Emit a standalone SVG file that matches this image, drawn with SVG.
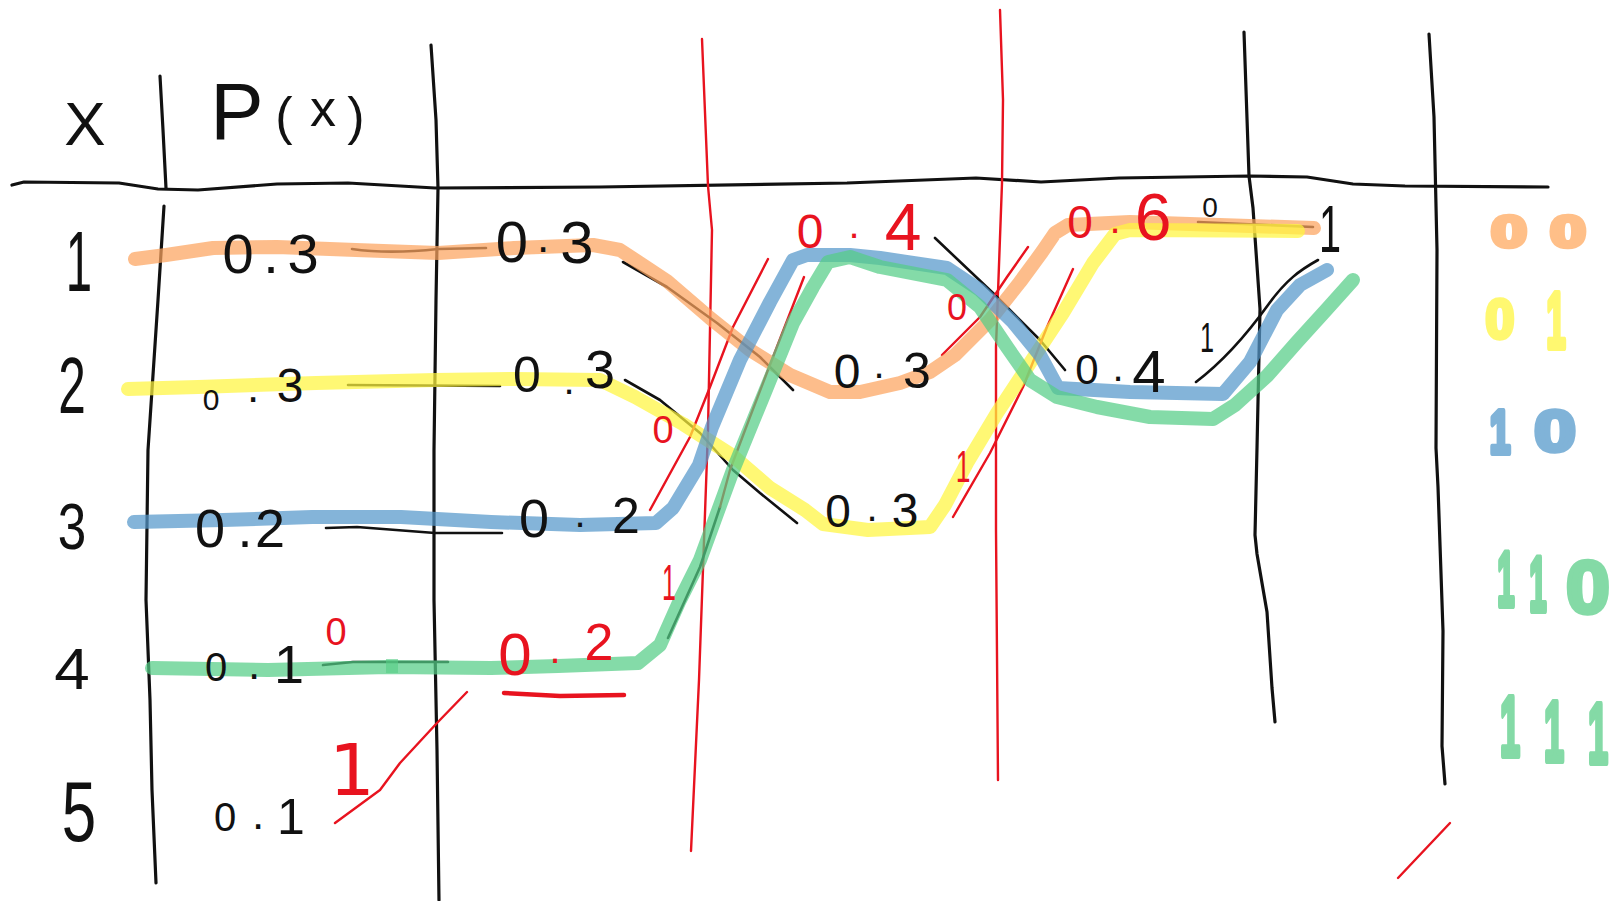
<svg xmlns="http://www.w3.org/2000/svg" width="1618" height="901" viewBox="0 0 1618 901">
<style>
.grid{fill:none;stroke:#111;stroke-width:3.2;stroke-linecap:round;stroke-linejoin:round}
.ln{fill:none;stroke:#111;stroke-width:2.6;stroke-linecap:round;stroke-linejoin:round}
.rl{fill:none;stroke:#e8131f;stroke-width:2.4;stroke-linecap:round;stroke-linejoin:round}
.mk{fill:none;stroke-width:14;stroke-linecap:round;stroke-linejoin:round;stroke-opacity:0.72}
.or{stroke:#fca35e}.ye{stroke:#fff53f}.bl{stroke:#5497cb}.gr{stroke:#55cd86}
.t{font-family:"Liberation Sans",Arial,sans-serif;fill:#111;text-anchor:middle}
.r{fill:#e8131f}
.lg{font-family:"Liberation Sans",Arial,sans-serif;font-weight:bold;text-anchor:middle;stroke-linejoin:round}
.lo{fill:#ffbf88;stroke:#ffbf88}.ly{fill:#fff870;stroke:#fff870}.lb{fill:#80b3d8;stroke:#80b3d8}.lgr{fill:#84daa6;stroke:#84daa6}
.z{stroke-width:4.5}.o{stroke-width:6}
</style>
<rect width="1618" height="901" fill="#fff"/>
<g id="grid">
<path class="grid" d="M12,185 L24,182 L119,183 L158,189 L198,190 L277,184 L348,183 L435,188 L600,187 L847,183 L976,178 L1041,182 L1119,178 L1249,176 L1307,177 L1353,184 L1405,186 L1548,187"/>
<path class="grid" d="M160,76 L163,130 L166,188 M164,206 L158,300 L148,450 L146,600 L150,700 L152,790 L156,883"/>
<path class="grid" d="M431,45 L436,120 L438,188 L436,300 L434,450 L434,600 L437,750 L439,900"/>
<path class="grid" d="M1244,32 L1249,176 L1253,208 L1260,309 L1257,448 L1255,535 L1257,554 L1267,612 L1272,688 L1275,722"/>
<path class="grid" d="M1429,34 L1434,117 L1437,250 L1436,448 L1438,487 L1443,631 L1442,746 L1445,784"/>
<path class="rl" d="M702,39 L708,186 L712,230 L708,430 L699,680 L691,851"/>
<path class="rl" d="M1000,10 L1003,100 L1002,183 L996,347 L996,530 L998,780"/>
</g>
<g id="connectors">
<path class="ln" d="M352,249 C380,253 410,252 438,249 L486,248"/>
<path class="ln" d="M348,385 L500,386"/>
<path class="ln" d="M326,528 L357,527 L435,533 L502,533"/>
<path class="ln" d="M323,665 L353,662 L448,662"/>
<path class="ln" d="M623,262 L667,287 L717,323 L760,357 L793,390"/>
<path class="ln" d="M625,380 L660,400 L700,433 L733,470 L760,493 L797,523"/>
<path class="ln" d="M935,238 L993,293 L1040,340 L1065,370"/>
<path class="ln" d="M1196,382 C1225,360 1250,330 1268,305 S1300,270 1318,260"/>
<path class="ln" d="M1198,222 L1313,227"/>
<path class="ln" d="M720,507 L700,567 L668,638"/>
<path class="rl" d="M768,259 L733,327 L710,387 L690,437 L650,510"/>
<path class="rl" d="M804,277 L773,357 L750,417 L730,470 L720,507"/>
<path class="rl" d="M942,355 L980,317 L1007,277 L1028,247"/>
<path class="rl" d="M953,517 L990,453 L1023,387 L1047,327 L1073,269"/>
<path class="rl" d="M335,823 L380,790 L400,763 L437,723 L467,692"/>
<path class="rl" d="M1398,878 L1450,823"/>
<path class="rl" d="M504,693 L560,696 L624,695" style="stroke-width:4.5"/>
</g>
<g id="paths">
<path class="mk or" d="M135,259 L166,255 L213,248 L277,247 L356,250 L438,253 L514,248 L593,245 L620,250 L667,281 L710,318 L750,350 L790,375 L830,392 L860,392 L900,383 L930,372 L955,355 L990,320 L1020,282 L1042,252 L1055,233 L1068,225 L1130,222 L1314,228"/>
<path class="mk ye" d="M128,389 L198,387 L316,383 L435,380 L514,379 L600,380 L635,397 L683,424 L733,456 L770,488 L805,510 L823,524 L868,530 L930,527 L945,505 L967,463 L997,413 L1030,363 L1063,313 L1093,263 L1115,234 L1130,230 L1298,231"/>
<path class="mk bl" d="M134,522 L223,520 L312,517 L401,517 L491,522 L580,525 L656,523 L673,508 L699,465 L712,427 L740,360 L770,302 L793,260 L807,255 L850,255 L880,258 L947,268 L980,290 L1013,322 L1040,355 L1058,388 L1130,392 L1223,394 L1250,362 L1277,310 L1300,285 L1327,270"/>
<path class="mk gr" d="M152,668 L268,670 L388,667 L491,668 L558,666 L638,663 L660,645 L680,600 L700,560 L733,470 L767,387 L793,323 L813,287 L828,262 L850,257 L880,267 L947,280 L980,307 L1007,347 L1030,380 L1057,397 L1097,407 L1150,417 L1213,419 L1235,405 L1267,376 L1297,342 L1327,309 L1353,280"/>
<rect x="386" y="659" width="12" height="14" fill="#55cd86" fill-opacity="0.6"/>
</g>
<g id="header">
<text class="t" x="85" y="145" font-size="62">X</text>
<text class="t" y="139"><tspan x="237" font-size="80">P</tspan><tspan x="284" y="134" font-size="52">(</tspan><tspan x="323" y="126" font-size="52">x</tspan><tspan x="356" y="134" font-size="52">)</tspan></text>
</g>
<g id="row-labels">
<text class="t" transform="translate(79,291) scale(0.55,1)" font-size="86">1</text>
<text class="t" transform="translate(72,413) scale(0.62,1)" font-size="80">2</text>
<text class="t" transform="translate(72,549) scale(0.8,1)" font-size="64">3</text>
<text class="t" transform="translate(72,689) scale(1.1,1)" font-size="58">4</text>
<text class="t" transform="translate(79,841) scale(0.72,1)" font-size="86">5</text>
</g>
<g id="node-p1"><text class="t" x="238 271 303" y="273" font-size="56">0.3</text></g>
<g id="node-p2"><text class="t"><tspan x="211" y="410" font-size="30">0</tspan><tspan x="253" y="402" font-size="44">.</tspan><tspan x="290" y="402" font-size="48">3</tspan></text></g>
<g id="node-p3"><text class="t" x="210 245 270" y="547" font-size="54">0.2</text></g>
<g id="node-p4"><text class="t"><tspan x="216" y="681" font-size="40">0</tspan><tspan x="254" y="679" font-size="44">.</tspan><tspan x="289" y="683" font-size="54">1</tspan></text></g>
<g id="node-p5"><text class="t"><tspan x="225" y="831" font-size="40">0</tspan><tspan x="258" y="829" font-size="44">.</tspan><tspan x="291" y="834" font-size="50">1</tspan></text></g>
<g id="node-s1-1"><text class="t"><tspan x="512" y="262" font-size="58">0</tspan><tspan x="543" y="252" font-size="44">.</tspan><tspan x="577" y="263" font-size="60">3</tspan></text></g>
<g id="node-s1-2"><text class="t"><tspan x="527" y="392" font-size="50">0</tspan><tspan x="569" y="394" font-size="40">.</tspan><tspan x="600" y="388" font-size="54">3</tspan></text></g>
<g id="node-s1-3"><text class="t"><tspan x="534" y="537" font-size="54">0</tspan><tspan x="580" y="527" font-size="40">.</tspan><tspan x="626" y="533" font-size="50">2</tspan></text></g>
<g id="node-s1-4"><text class="t r"><tspan x="515" y="675" font-size="60">0</tspan><tspan x="555" y="663" font-size="40">.</tspan><tspan x="599" y="660" font-size="52">2</tspan></text></g>
<g id="node-s2-1"><text class="t r"><tspan x="810" y="248" font-size="48">0</tspan><tspan x="854" y="238" font-size="40">.</tspan><tspan x="903" y="250" font-size="66">4</tspan></text></g>
<g id="node-s2-2"><text class="t"><tspan x="847" y="388" font-size="48">0</tspan><tspan x="879" y="378" font-size="40">.</tspan><tspan x="917" y="388" font-size="50">3</tspan></text></g>
<g id="node-s2-3"><text class="t"><tspan x="838" y="527" font-size="46">0</tspan><tspan x="872" y="521" font-size="40">.</tspan><tspan x="905" y="527" font-size="48">3</tspan></text></g>
<g id="node-s3-1"><text class="t r"><tspan x="1080" y="238" font-size="46">0</tspan><tspan x="1115" y="233" font-size="40">.</tspan><tspan x="1153" y="240" font-size="66">6</tspan></text></g>
<g id="node-s3-2"><text class="t"><tspan x="1087" y="384" font-size="42">0</tspan><tspan x="1118" y="381" font-size="40">.</tspan><tspan x="1149" y="392" font-size="60">4</tspan></text></g>
<g id="node-root"><text class="t" transform="translate(1330,252) scale(0.6,1)" font-size="66">1</text></g>
<g id="bit-labels">
<text class="t r" x="336" y="645" font-size="38">0</text>
<text class="t r" x="352" y="795" font-size="72" style="font-family:'DejaVu Sans',sans-serif">1</text>
<text class="t r" x="663" y="443" font-size="38">0</text>
<text class="t r" transform="translate(669,600) scale(0.5,1)" font-size="50">1</text>
<text class="t r" x="957" y="320" font-size="36">0</text>
<text class="t r" transform="translate(963,482) scale(0.6,1)" font-size="44">1</text>
<text class="t" x="1210" y="217" font-size="28">0</text>
<text class="t" transform="translate(1207,352) scale(0.6,1)" font-size="42">1</text>
</g>
<g id="legend">
<g id="code-1">
<text class="lg lo z" transform="translate(1509,247) scale(1.45,1)" font-size="44">0</text>
<text class="lg lo z" transform="translate(1568,247) scale(1.45,1)" font-size="44">0</text>
</g>
<g id="code-2">
<text class="lg ly z" transform="translate(1500,338) scale(0.94,1)" font-size="55">0</text>
<text class="lg ly o" transform="translate(1556,348) scale(0.44,1)" font-size="80">1</text>
</g>
<g id="code-3">
<text class="lg lb o" transform="translate(1500,453) scale(0.6,1)" font-size="62">1</text>
<text class="lg lb z" transform="translate(1555,451) scale(1.29,1)" font-size="58">0</text>
</g>
<g id="code-4">
<text class="lg lgr o" transform="translate(1506,606) scale(0.4,1)" font-size="78">1</text>
<text class="lg lgr o" transform="translate(1538,611) scale(0.4,1)" font-size="78">1</text>
<text class="lg lgr z" transform="translate(1588,613) scale(1.05,1)" font-size="75">0</text>
</g>
<g id="code-5">
<text class="lg lgr o" transform="translate(1510,756) scale(0.42,1)" font-size="86">1</text>
<text class="lg lgr o" transform="translate(1554,761) scale(0.42,1)" font-size="86">1</text>
<text class="lg lgr o" transform="translate(1598,763) scale(0.42,1)" font-size="86">1</text>
</g>
</g>
</svg>
